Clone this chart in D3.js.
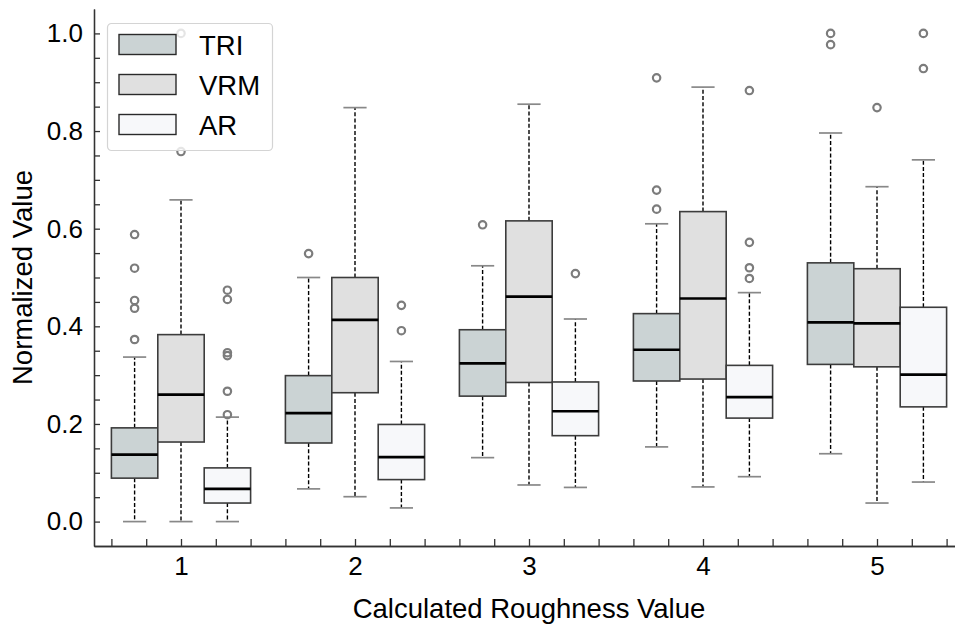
<!DOCTYPE html>
<html>
<head>
<meta charset="utf-8">
<script src="https://cdn.jsdelivr.net/npm/d3@7"></script>
<style>
  body { margin: 0; background: #fff; }
  svg { font-family: "Liberation Sans", Arial, sans-serif; }
</style>
</head>
<body>
<svg id="chart"></svg>
<script>
// categories on the x axis
const categories = [1, 2, 3, 4, 5];
const seriesNames = ['TRI', 'VRM', 'AR'];
const seriesColors = ['#cbd3d4', '#e0e0e0', '#f7f8fa'];

// [lower whisker, q1, median, q3, upper whisker] per category
const triStats = [
  [0.000, 0.089, 0.137, 0.192, 0.337],
  [0.067, 0.161, 0.222, 0.299, 0.500],
  [0.131, 0.257, 0.324, 0.393, 0.524],
  [0.153, 0.288, 0.352, 0.426, 0.610],
  [0.139, 0.322, 0.408, 0.530, 0.796]
];
const vrmStats = [
  [0.000, 0.163, 0.260, 0.383, 0.659],
  [0.051, 0.264, 0.413, 0.500, 0.848],
  [0.075, 0.285, 0.461, 0.616, 0.855],
  [0.071, 0.292, 0.457, 0.635, 0.890],
  [0.038, 0.317, 0.406, 0.518, 0.686]
];
const arStats = [
  [0.000, 0.038, 0.067, 0.110, 0.214],
  [0.028, 0.086, 0.132, 0.199, 0.328],
  [0.070, 0.176, 0.226, 0.286, 0.415],
  [0.092, 0.212, 0.255, 0.320, 0.469],
  [0.081, 0.235, 0.301, 0.439, 0.741]
];

// fliers per category
const triOutliers = [[0.588, 0.519, 0.453, 0.437, 0.373], [0.549], [0.608], [0.909, 0.679, 0.640], [1.0, 0.977]];
const vrmOutliers = [[1.0, 0.758], [], [], [], [0.848]];
const arOutliers = [[0.474, 0.455, 0.346, 0.340, 0.267, 0.219], [0.443, 0.391], [0.508], [0.883, 0.572, 0.520, 0.498], [1.0, 0.928]];

const yMajorTicks = [0.0, 0.2, 0.4, 0.6, 0.8, 1.0];

class GroupedBoxplot {

  constructor(_config) {
    this.config = {
      parentElement: _config.parentElement,
      containerWidth: _config.containerWidth || 955,
      containerHeight: _config.containerHeight || 628,
      margin: _config.margin || {top: 9, right: -9, bottom: 82, left: 94}
    };
    this.initVis();
  }

  initVis() {
    let vis = this;

    vis.width = vis.config.containerWidth - vis.config.margin.left - vis.config.margin.right;
    vis.height = vis.config.containerHeight - vis.config.margin.top - vis.config.margin.bottom;

    vis.svg = d3.select(vis.config.parentElement)
      .attr('width', vis.config.containerWidth)
      .attr('height', vis.config.containerHeight);

    vis.chart = vis.svg.append('g')
      .attr('transform', `translate(${vis.config.margin.left},${vis.config.margin.top})`);

    vis.xScale = d3.scaleLinear()
      .domain([0.5, 5.5])
      .range([0, vis.width]);

    vis.yScale = d3.scaleLinear()
      .domain([-0.05, 1.05])
      .range([vis.height, 0]);

    // one group per series, stats + fliers
    vis.data = seriesNames.map((name, i) => ({
      name: name,
      color: seriesColors[i],
      offset: (i - 1) * 0.8 / 3,
      stats: [triStats, vrmStats, arStats][i],
      outliers: [triOutliers, vrmOutliers, arOutliers][i]
    }));
    vis.boxWidth = 0.8 / 3;

    vis.renderVis();
  }

  renderVis() {
    let vis = this;
    const x = vis.xScale, y = vis.yScale;
    const bw = x(vis.boxWidth) - x(0);

    let boxes = [];
    vis.data.forEach(s => {
      categories.forEach((c, j) => {
        const st = s.stats[j];
        boxes.push({series: s, cx: x(c + s.offset), lo: st[0], q1: st[1], med: st[2], q3: st[3], hi: st[4], fl: s.outliers[j]});
      });
    });

    // whiskers (dashed)
    vis.chart.selectAll('.whisker')
      .data(boxes.flatMap(b => [{cx: b.cx, a: b.q3, b: b.hi}, {cx: b.cx, a: b.q1, b: b.lo}]))
      .join('line')
        .attr('class', 'whisker')
        .attr('x1', d => d.cx).attr('x2', d => d.cx)
        .attr('y1', d => y(d.a)).attr('y2', d => y(d.b))
        .attr('stroke', '#000')
        .attr('stroke-width', 1.4)
        .attr('stroke-dasharray', '4,2.2');

    // caps
    vis.chart.selectAll('.cap')
      .data(boxes.flatMap(b => [{cx: b.cx, v: b.hi}, {cx: b.cx, v: b.lo}]))
      .join('line')
        .attr('class', 'cap')
        .attr('x1', d => d.cx - bw / 4).attr('x2', d => d.cx + bw / 4)
        .attr('y1', d => y(d.v)).attr('y2', d => y(d.v))
        .attr('stroke', '#888')
        .attr('stroke-width', 1.7);

    // boxes
    vis.chart.selectAll('.box')
      .data(boxes)
      .join('rect')
        .attr('class', 'box')
        .attr('x', d => d.cx - bw / 2)
        .attr('width', bw)
        .attr('y', d => y(d.q3))
        .attr('height', d => y(d.q1) - y(d.q3))
        .attr('fill', d => d.series.color)
        .attr('stroke', '#3c3c3c')
        .attr('stroke-width', 1.6);

    // medians
    vis.chart.selectAll('.median')
      .data(boxes)
      .join('line')
        .attr('class', 'median')
        .attr('x1', d => d.cx - bw / 2).attr('x2', d => d.cx + bw / 2)
        .attr('y1', d => y(d.med)).attr('y2', d => y(d.med))
        .attr('stroke', '#000')
        .attr('stroke-width', 2.7);

    // outliers
    vis.chart.selectAll('.flier')
      .data(boxes.flatMap(b => b.fl.map(v => ({cx: b.cx, v: v}))))
      .join('circle')
        .attr('class', 'flier')
        .attr('cx', d => d.cx)
        .attr('cy', d => y(d.v))
        .attr('r', 3.7)
        .attr('fill', 'none')
        .attr('stroke', '#7c7c7c')
        .attr('stroke-width', 2.2);

    // axes, ticks inward
    const yAxis = d3.axisLeft(y).tickValues(yMajorTicks).tickFormat(d3.format('.1f'))
      .tickSizeInner(-6).tickSizeOuter(0).tickPadding(11);
    const yMinor = d3.axisLeft(y).tickValues(d3.range(0, 21).map(i => i * 0.05).filter(v => !yMajorTicks.some(t => Math.abs(t - v) < 1e-6)))
      .tickFormat('').tickSizeInner(-6).tickSizeOuter(0);
    const xAxis = d3.axisBottom(x).tickValues(categories).tickFormat(d3.format('d'))
      .tickSizeInner(-7).tickSizeOuter(0).tickPadding(11);
    const xMinor = d3.axisBottom(x).tickValues(d3.range(0, 26).map(i => 0.6 + i * 0.2).filter(v => Math.abs(v - Math.round(v)) > 1e-6))
      .tickFormat('').tickSizeInner(-7).tickSizeOuter(0);

    const styleAxis = g => {
      g.selectAll('path, line').attr('stroke', '#333').attr('stroke-width', 1.3);
      g.selectAll('text').attr('fill', '#000').style('font-size', '26px');
    };

    vis.chart.append('g').call(yMinor).call(styleAxis);
    vis.chart.append('g').call(yAxis).call(styleAxis);
    vis.chart.append('g').attr('transform', `translate(0,${vis.height})`).call(xMinor).call(styleAxis);
    vis.chart.append('g').attr('transform', `translate(0,${vis.height})`).call(xAxis).call(styleAxis);

    // axis titles
    vis.svg.append('text')
      .attr('transform', `translate(31.5,${vis.config.margin.top + vis.height / 2}) rotate(-90)`)
      .attr('text-anchor', 'middle')
      .style('font-size', '27.5px')
      .text('Normalized Value');

    vis.svg.append('text')
      .attr('x', vis.config.margin.left + x(3))
      .attr('y', 618)
      .attr('text-anchor', 'middle')
      .style('font-size', '27.5px')
      .text('Calculated Roughness Value');

    // legend
    const legend = vis.svg.append('g').attr('transform', 'translate(107.5,23.5)');
    legend.append('rect')
      .attr('width', 165).attr('height', 127).attr('rx', 4)
      .attr('fill', '#fff').attr('fill-opacity', 0.8)
      .attr('stroke', '#d4d4d4').attr('stroke-width', 1.2);
    const items = legend.selectAll('.item')
      .data(vis.data)
      .join('g')
        .attr('class', 'item')
        .attr('transform', (d, i) => `translate(11.5,${11 + i * 40})`);
    items.append('rect')
      .attr('width', 57).attr('height', 20)
      .attr('fill', d => d.color)
      .attr('stroke', '#2a2a2a').attr('stroke-width', 1.4);
    items.append('text')
      .attr('x', 80).attr('y', 20)
      .style('font-size', '27.5px')
      .text(d => d.name);
  }
}

new GroupedBoxplot({parentElement: '#chart'});
</script>
</body>
</html>
